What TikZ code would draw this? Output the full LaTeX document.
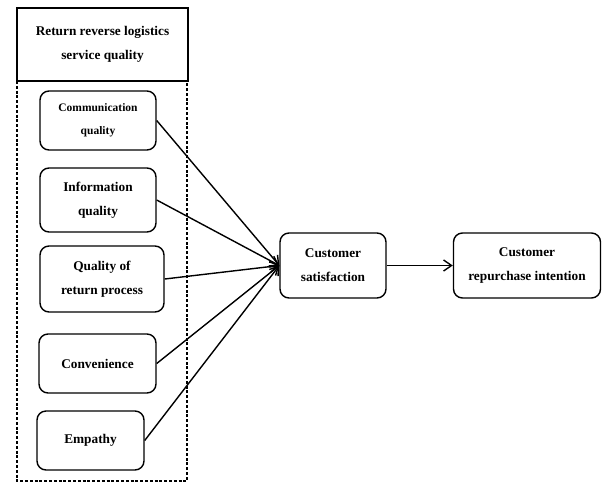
\documentclass[tikz,border=0pt]{standalone}
\usepackage{fontspec}
\setmainfont{Liberation Serif}
\usetikzlibrary{arrows.meta}

\begin{document}
\begin{tikzpicture}[x=1pt, y=-1pt, line width=1.4pt,
    box/.style={draw, rounded corners=9pt, align=center, inner sep=0pt,
        font=\bfseries\fontsize{13.3}{24}\selectfont},
    >={Straight Barb[length=8pt,width=11pt]}]
\useasboundingbox (0,0) rectangle (602,483);

%\draw[help lines] (0,0) grid[step=50] (602,483);

% service quality group
\node[draw, minimum width=171, minimum height=73, align=center, inner sep=0pt,
    font=\bfseries\fontsize{13.3}{24}\selectfont] (header) at (102.5,44.5)
    {Return reverse logistics\\service quality};
\draw[line width=1.2pt, dash pattern=on 3pt off 1.8pt] (17,81) rectangle (187,481);

\node[box, minimum width=116, minimum height=59,
    font=\bfseries\fontsize{11.5}{23}\selectfont] (comm) at (98,120.5) {Communication\\quality};
\node[box, minimum width=116, minimum height=64] (info) at (98,200) {Information\\quality};
\node[box, minimum width=124, minimum height=66] (proc) at (102,279) {Quality of\\return process};
\node[box, minimum width=117, minimum height=59] (conv) at (97.5,363.5) {Convenience};
\node[box, minimum width=107, minimum height=59] (emp) at (90.5,440.5) {Empathy};

% outcomes
\node[box, minimum width=106, minimum height=65] (sat) at (333,265.5) {Customer\\satisfaction};
\node[box, minimum width=147, minimum height=65] (rep) at (527,265.5) {Customer\\repurchase intention};

\foreach \d in {comm,info,proc,conv,emp}
    \draw[->] (\d.east) -- (sat.west);
\draw[->] (sat) -- (rep);
\end{tikzpicture}
\end{document}
